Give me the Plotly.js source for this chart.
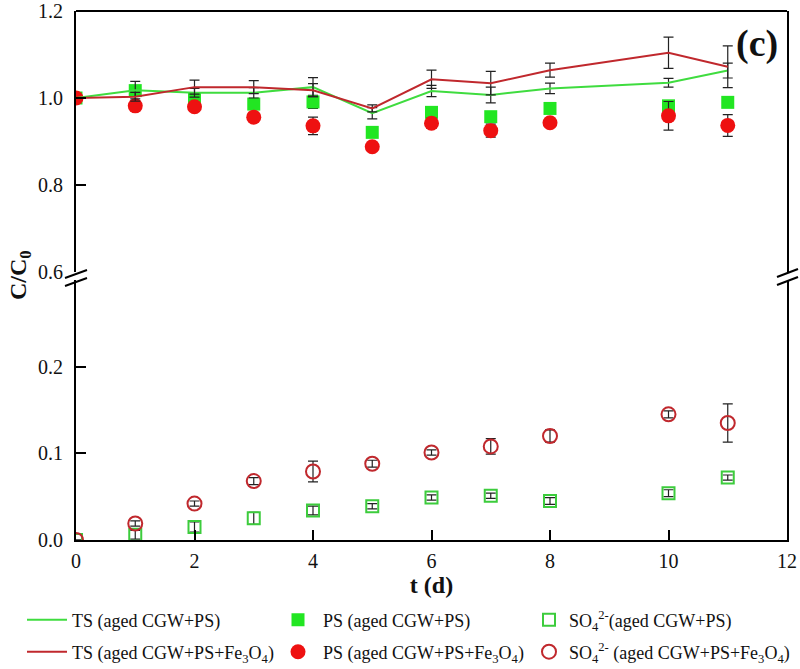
<!DOCTYPE html>
<html>
<head>
<meta charset="utf-8">
<script src="https://cdn.plot.ly/plotly-3.0.1.min.js"></script>
<style>html,body{margin:0;padding:0;background:#fff;}#chart{width:800px;height:669px;}</style>
</head>
<body>
<div id="chart"></div>
<script>
var days = [0, 1, 2, 3, 4, 5, 6, 7, 8, 10, 11];

var tsA = [1.000, 1.018, 1.012, 1.012, 1.025, 0.965, 1.016, 1.007, 1.022, 1.035, 1.063];
var tsAErr = [0, 0.020, 0.010, 0.012, 0.022, 0.013, 0.013, 0.018, 0.012, 0.010, 0.017];
var tsB = [1.000, 1.003, 1.025, 1.025, 1.018, 0.976, 1.043, 1.034, 1.064, 1.104, 1.072];
var tsBErr = [0, 0.010, 0.016, 0.015, 0.015, 0.008, 0.021, 0.027, 0.016, 0.036, 0.048];

var psA = [1.000, 1.017, 0.998, 0.986, 0.991, 0.921, 0.967, 0.957, 0.976, 0.982, 0.990];
var psAErr = [0, 0.008, 0.008, 0.010, 0.015, 0.005, 0.008, 0.010, 0.005, 0.008, 0.005];
var psB = [1.000, 0.982, 0.980, 0.956, 0.936, 0.888, 0.942, 0.925, 0.943, 0.959, 0.937];
var psBErr = [0, 0.005, 0.005, 0.010, 0.020, 0.003, 0.012, 0.015, 0.003, 0.033, 0.025];

var soA = [0, 0.006, 0.015, 0.025, 0.034, 0.039, 0.049, 0.051, 0.045, 0.054, 0.072];
var soAErr = [0, 0.005, 0.006, 0.007, 0.005, 0.003, 0.003, 0.003, 0.004, 0.004, 0.003];
var soB = [0, 0.019, 0.042, 0.068, 0.079, 0.088, 0.101, 0.108, 0.120, 0.145, 0.135];
var soBErr = [0, 0.003, 0.003, 0.004, 0.012, 0.004, 0.003, 0.009, 0.007, 0.004, 0.022];

var xTicks = [0, 2, 4, 6, 8, 10, 12];
var yTopTicks = [0.6, 0.8, 1.0, 1.2];
var yBotTicks = [0.0, 0.1, 0.2];

var names = [
  'TS (aged CGW+PS)',
  'PS (aged CGW+PS)',
  'SO<sub>4</sub><sup>2-</sup>(aged CGW+PS)',
  'TS (aged CGW+PS+Fe<sub>3</sub>O<sub>4</sub>)',
  'PS (aged CGW+PS+Fe<sub>3</sub>O<sub>4</sub>)',
  'SO<sub>4</sub><sup>2-</sup> (aged CGW+PS+Fe<sub>3</sub>O<sub>4</sub>)'
];

var GREEN_LINE = '#3fdc3f', RED_LINE = '#c0282d';
var GREEN_FILL = '#22e622', RED_FILL = '#ee1111';
var GREEN_OPEN = '#3ccc3c', RED_OPEN = '#c0282d';

function err(a) { return {type: 'data', array: a, visible: true, color: '#222', thickness: 1.2, width: 5}; }

var traces = [
  {x: days, y: psA, yaxis: 'y2', name: names[1], legend: 'legend', legendrank: 2, mode: 'markers', type: 'scatter',
   marker: {symbol: 'square', size: 13, color: GREEN_FILL}, error_y: err(psAErr)},
  {x: days, y: psB, yaxis: 'y2', name: names[4], legend: 'legend2', legendrank: 2, mode: 'markers', type: 'scatter',
   marker: {symbol: 'circle', size: 15, color: RED_FILL}, error_y: err(psBErr)},
  {x: days, y: tsA, yaxis: 'y2', name: names[0], legend: 'legend', legendrank: 1, mode: 'lines', type: 'scatter',
   line: {color: GREEN_LINE, width: 2}, error_y: err(tsAErr)},
  {x: days, y: tsB, yaxis: 'y2', name: names[3], legend: 'legend2', legendrank: 1, mode: 'lines', type: 'scatter',
   line: {color: RED_LINE, width: 2}, error_y: err(tsBErr)},
  {x: days, y: soA, yaxis: 'y', name: names[2], legend: 'legend3', mode: 'markers', type: 'scatter',
   marker: {symbol: 'square-open', size: 12, color: GREEN_OPEN, line: {width: 2}}, error_y: err(soAErr)},
  {x: days, y: soB, yaxis: 'y', name: names[5], legend: 'legend4', mode: 'markers', type: 'scatter',
   marker: {symbol: 'circle-open', size: 14, color: RED_OPEN, line: {width: 2}}, error_y: err(soBErr)}
];

var L = 76, R = 787, T = 11, B = 540, H = 669, W = 800;
var ph = B - T, pw = R - L;
function py(p) { return (B - p) / ph; }
function px(p) { return (p - L) / pw; }

var FONT = "'Liberation Serif', 'Times New Roman', serif";
var lineStyle = {color: '#000', width: 2};

var shapes = [
  {type: 'line', xref: 'paper', yref: 'paper', x0: 0, x1: 1, y0: 1, y1: 1, line: lineStyle},
  {type: 'line', xref: 'paper', yref: 'paper', x0: px(65), x1: px(87), y0: py(278), y1: py(270), line: lineStyle},
  {type: 'line', xref: 'paper', yref: 'paper', x0: px(65), x1: px(87), y0: py(286), y1: py(278), line: lineStyle},
  {type: 'line', xref: 'paper', yref: 'paper', x0: px(777), x1: px(798), y0: py(277), y1: py(269), line: lineStyle},
  {type: 'line', xref: 'paper', yref: 'paper', x0: px(777), x1: px(798), y0: py(285), y1: py(277), line: lineStyle}
];

function legendAt(leftPx, rowY, itemW, entryW) {
  var o = {
    orientation: 'h', xref: 'paper', yref: 'paper', x: px(leftPx), y: py(rowY),
    xanchor: 'left', yanchor: 'middle',
    itemwidth: itemW, font: {size: 18, family: FONT, color: '#111'}, traceorder: 'normal',
    bgcolor: 'rgba(0,0,0,0)'
  };
  if (entryW) { o.entrywidth = entryW; o.entrywidthmode = 'pixels'; }
  return o;
}

var layout = {
  width: W, height: H,
  margin: {l: L, r: W - R, t: T, b: H - B, autoexpand: false},
  paper_bgcolor: '#fff', plot_bgcolor: '#fff',
  font: {family: FONT, size: 20, color: '#111'},
  showlegend: true,
  xaxis: {
    range: [0, 12], tickvals: xTicks, ticktext: xTicks.map(String),
    ticks: 'inside', ticklen: 10, tickwidth: 2, tickcolor: '#000', ticklabelstandoff: 2,
    showline: true, linecolor: '#000', linewidth: 2, showgrid: false, zeroline: false,
    anchor: 'y', tickfont: {size: 20, family: FONT},
    title: {text: '<b>t (d)</b>', font: {size: 24, family: FONT}, standoff: 0}
  },
  yaxis: {
    domain: [0, py(280)], range: [0, 0.3], tickvals: yBotTicks, ticktext: yBotTicks.map(function (v) { return v.toFixed(1); }),
    ticks: 'inside', ticklen: 10, tickwidth: 2, tickcolor: '#000', ticklabelstandoff: 7,
    showline: true, mirror: true, linecolor: '#000', linewidth: 2, showgrid: false, zeroline: false,
    tickfont: {size: 20, family: FONT}
  },
  yaxis2: {
    domain: [py(272), 1], range: [0.6, 1.2], anchor: 'x', tickvals: yTopTicks, ticktext: yTopTicks.map(function (v) { return v.toFixed(1); }),
    ticks: 'inside', ticklen: 10, tickwidth: 2, tickcolor: '#000', ticklabelstandoff: 7,
    showline: true, mirror: true, linecolor: '#000', linewidth: 2, showgrid: false, zeroline: false,
    tickfont: {size: 20, family: FONT}
  },
  legend: legendAt(22, 620, 40, 196),
  legend2: legendAt(22, 652, 40, 196),
  legend3: legendAt(529, 620, 30, null),
  legend4: legendAt(529, 652, 30, null),
  shapes: shapes,
  annotations: [
    {text: '<b>C/C<sub>0</sub></b>', xref: 'paper', yref: 'paper', x: px(20), y: py(275), textangle: -90,
     showarrow: false, font: {size: 24, family: FONT, color: '#111'}, xanchor: 'center', yanchor: 'middle'},
    {text: '<b>(c)</b>', xref: 'paper', yref: 'paper', x: px(757), y: py(43), showarrow: false,
     font: {size: 38, family: FONT, color: '#111'}, xanchor: 'center', yanchor: 'middle'}
  ]
};

Plotly.newPlot('chart', traces, layout, {displayModeBar: false, staticPlot: true});
</script>
</body>
</html>
